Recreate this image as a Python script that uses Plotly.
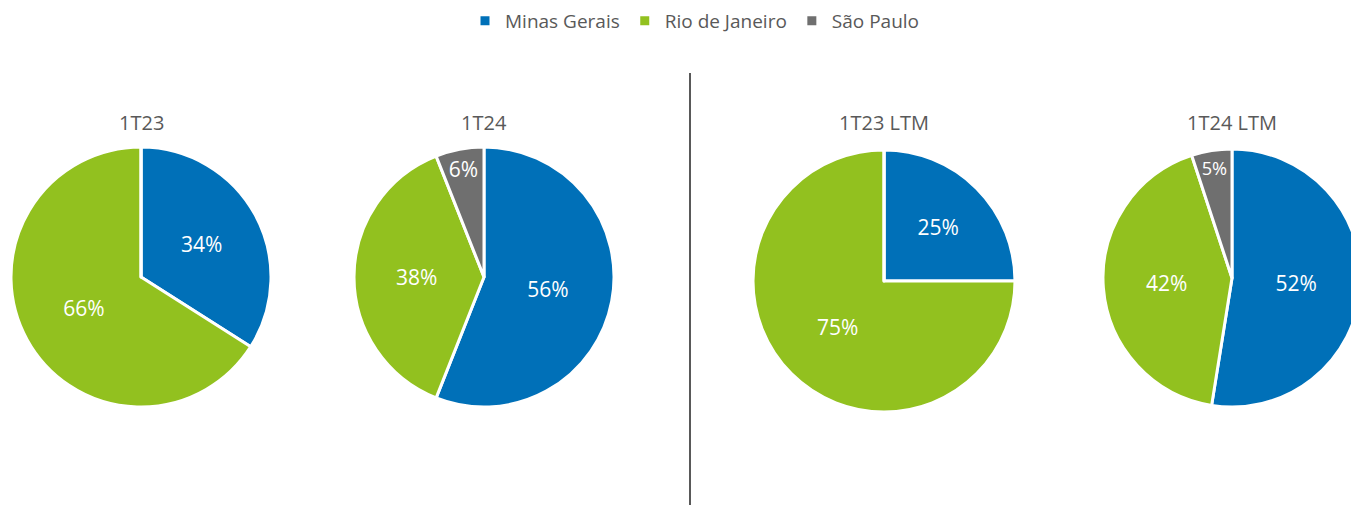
import plotly.graph_objects as go

states = ['Minas Gerais', 'Rio de Janeiro', 'São Paulo']
periods = ['1T23', '1T24', '1T23 LTM', '1T24 LTM']
share_1t23 = [34, 66, 0]
share_1t24 = [56, 38, 6]
share_1t23_ltm = [25, 75, 0]
share_1t24_ltm = [52, 42, 5]

colors = ['#0070B8', '#92C11F', '#6F6F6F']
font = 'Open Sans'
W, H = 1365, 505

# pie centres / radius in pixels (last pie runs off the right edge like the original)
pies = [(share_1t23, 141, 277, 130),
        (share_1t24, 484, 277, 130),
        (share_1t23_ltm, 884, 281, 131),
        (share_1t24_ltm, 1232, 278, 129)]

fig = go.Figure()
for i, (vals, cx, cy, r) in enumerate(pies):
    txt = [f'{v}%' if v > 0 else '' for v in vals]
    fig.add_trace(go.Pie(
        labels=states, values=vals, text=txt, textinfo='text',
        sort=False, direction='clockwise', rotation=0,
        marker=dict(colors=colors, line=dict(color='white', width=3)),
        textposition='inside', insidetextorientation='horizontal',
        textfont=dict(color='white', size=21, family=font),
        domain=dict(x=[(cx - r) / W, (cx + r) / W],
                    y=[1 - (cy + r) / H, 1 - (cy - r) / H]),
        showlegend=(i == 1), hoverinfo='label+text', name=periods[i]))
    fig.add_annotation(x=cx / W, y=1 - 122 / H, xref='paper', yref='paper',
                       xanchor='center', yanchor='middle', text=periods[i], showarrow=False,
                       font=dict(size=20, color='#595959', family=font))

fig.add_shape(type='line', xref='paper', yref='paper',
              x0=690 / W, x1=690 / W, y0=0, y1=1 - 73 / H,
              line=dict(color='#595959', width=2))

fig.update_layout(
    width=W, height=H,
    margin=dict(l=0, r=0, t=0, b=0),
    paper_bgcolor='white',
    font=dict(family=font, color='#595959', size=19),
    legend=dict(orientation='h', x=695 / W, xanchor='center', y=1 - 21 / H, yanchor='middle',
                font=dict(size=19, color='#595959', family=font),
                itemwidth=30, traceorder='normal'),
)

fig.write_html('out.html', config={'displayModeBar': False},
               post_script="document.body.style.margin='0';document.body.style.overflow='hidden';")
